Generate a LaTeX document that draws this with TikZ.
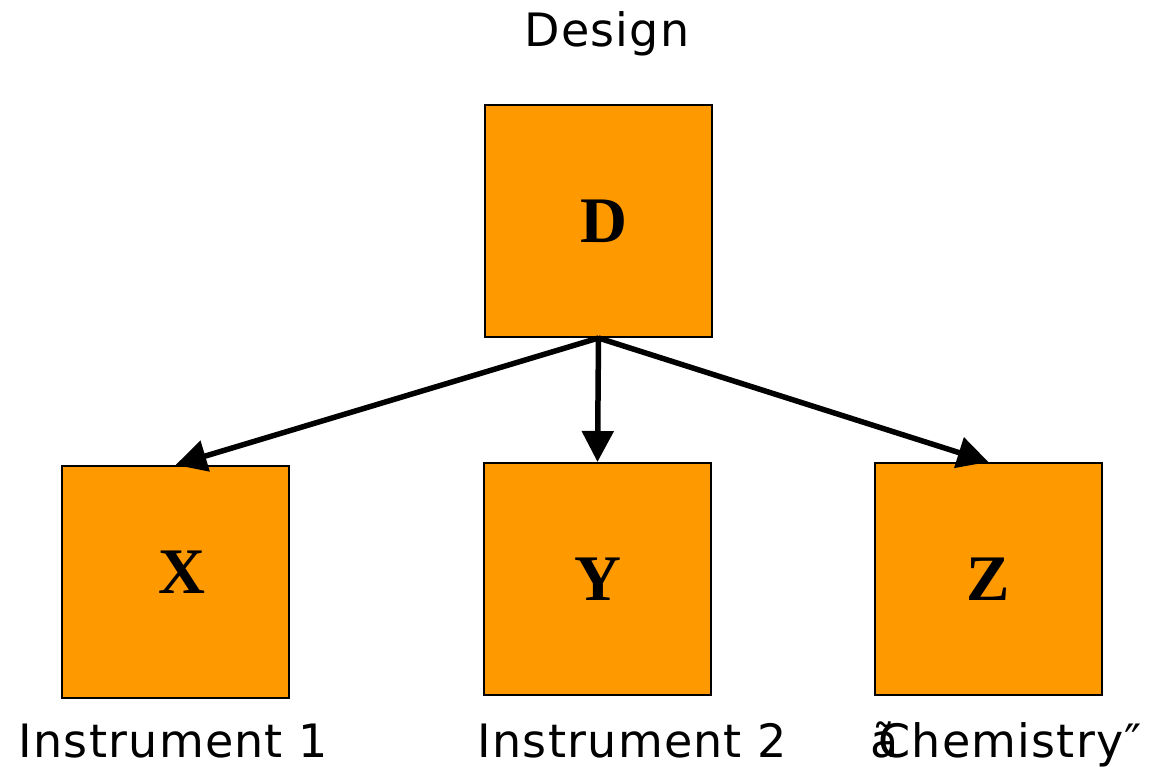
\documentclass[tikz,border=0pt]{standalone}
\usepackage{fontspec}
\setmainfont{DejaVu Sans}[LetterSpace=2.7]
\newfontfamily\boxfont{Liberation Serif}
\usetikzlibrary{arrows.meta}
\definecolor{boxorange}{RGB}{255,153,0}
\tikzset{
  x=1pt, y=-1pt,
  varbox/.style={draw=black, line width=2pt, fill=boxorange,
    minimum width=227pt, minimum height=232pt, inner sep=0pt},
  letter/.style={font=\boxfont\bfseries\fontsize{65}{66}\selectfont, inner sep=0pt},
  caption/.style={inner sep=0pt, anchor=base, font=\fontsize{46}{50}\selectfont},
  arr/.style={line width=5.5pt, -{Triangle[length=31pt, width=31pt]}}
}
\begin{document}
\begin{tikzpicture}
\useasboundingbox (0,0) rectangle (1152,767);
% variable boxes with their bold letters
\node[varbox, label={[letter, xshift=5pt]center:D}] (D) at (598.5,221) {};
\node[varbox, label={[letter, xshift=6pt, yshift=10pt]center:X}] (X) at (175.5,582) {};
\node[varbox, label={[letter]center:Y}] (Y) at (597.5,579) {};
\node[varbox, label={[letter]center:Z}] (Z) at (988.5,579) {};
% captions
\node[caption] (tD) at (607,47) {Design};
\node[caption] (tX) at (173.5,757) {Instrument 1};
\node[caption] (tY) at (632.5,757) {Instrument 2};
\node[caption] (tZ) at (1006,757) {ã\kern-20pt Chemistry″};
% arrows from the design to each measurement
\draw[arr] (D.south) -- (X.north);
\draw[arr] (D.south) -- (Y.north);
\draw[arr] (D.south) -- (Z.north);
\end{tikzpicture}
\end{document}
